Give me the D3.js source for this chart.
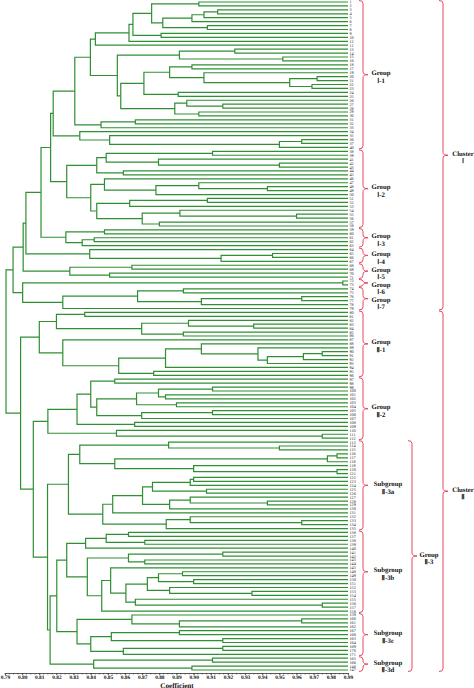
<!DOCTYPE html>
<html><head><meta charset="utf-8">
<script src="https://cdn.jsdelivr.net/npm/d3@7"></script>
<style>html,body{margin:0;padding:0;background:#fff;} svg{display:block;} text{text-rendering:geometricPrecision;}</style>
</head><body><svg id="c" width="474" height="688"></svg>
<script>
// ---------- DATA ----------
const L = 0; // leaf marker; internal node = [similarity coefficient, upper child, lower child]

const tickValues = [0.79,0.80,0.81,0.82,0.83,0.84,0.85,0.86,0.87,0.88,0.89,0.90,0.91,0.92,0.93,0.94,0.95,0.96,0.97,0.98,0.99];
const tickLabels = ["0.79","0.80","0.81","0.82","0.83","0.84","0.85","0.86","0.87","0.88","0.89","0.90","0.91","0.92","0.93","0.94","0.95","0.96","0.97","0.98","0.99"];

// Cluster I
const I1 = [0.8181,
  [0.8307,
    [0.8398,
      [0.8427, [0.8623, [0.8646, [0.8755, [0.903, L, L],
                                          [0.882, [0.899, [0.906, [0.914, L, L], L], L], [0.908, L, L]]],
                                 [0.881, L, L]], L], L],
      [0.8555, [0.8917, [0.924, L, L], [0.952, L, L]],
        [0.8575, [0.871, [0.886, [0.899, L, L], [0.906, L, [0.956, [0.972, L, L], [0.969, L, L]]]], [0.891, L, L]],
                 [0.889, [0.896, L, [0.917, L, L]], [0.903, L, L]]]]],
    [0.846, [0.866, L, L], L]],
  [0.8336, L, [0.851, L, [0.95, [0.963, L, L], L]]]];
const I2 = [0.826,
  [0.8435,
    [0.849, [0.911, L, L], [0.8795, L, [0.95, L, L]]],
    [0.859, L, L]],
  [0.84,
    [0.848, L, [0.878, [0.903, L, [0.943, L, L]], L]],
    [0.8435,
      [0.8627, [0.908, L, L], L],
      [0.87, [0.892, L, [0.96, L, L]], [0.88, L, L]]]]];
const I3 = [0.8255, [0.848, L, L], [0.835, [0.842, L, L], L]];
const I4 = [0.8394, L, [0.916, [0.946, L, L], L]];
const I5 = [0.8278, [0.864, L, L], [0.851, L, L]];
const I6 = [0.987, L, L];
const I7 = [0.8237, [0.8673, [0.894, L, L], [0.9045, [0.963, L, L], L]], L];

// Cluster II
const II1 = [0.81,
  [0.82, [0.8365, L, L], [0.8697, [0.897, L, [0.935, L, L]], [0.894, L, L]]],
  [0.8237, L, [0.8563, [0.8836, [0.9045, L, [0.9375, L, [0.943, [0.964, [0.975, L, L], L], L]]], L], [0.8767, L, L]]]];
const II2 = [0.815,
  [0.832,
    [0.84, [0.854, L, L], [0.8435, [0.8667, [0.8795, [0.911, L, L], [0.8836, L, L]], [0.89, L, L]], [0.8697, [0.911, L, L], L]]],
    [0.8656, L, L]],
  [0.855, L, [0.975, L, L]]];
const II3a = [0.827,
  [0.8336, [0.8854, L, [0.95, L, L]], [0.854, [0.978, [0.9836, L, L], L], [0.9, L, [0.9836, L, L]]]],
  [0.847,
    [0.8528,
      [0.8702,
        [0.876, [0.898, [0.9, L, L], L], [0.9075, L, L]],
        [0.886, [0.898, L, [0.943, L, L]], L]],
      L],
    [0.884, [0.898, L, [0.963, L, L]], L]]];
const II3b = [0.826,
  [0.837, [0.849, [0.862, L, L], [0.8715, L, L]], L],
  [0.838,
    [0.862, [0.917, L, L], [0.8715, L, L]],
    [0.8464,
      [0.8516, L, [0.8605, [0.873, [0.8795, [0.8935, L, L], [0.9, L, L]], [0.886, L, [0.934, L, L]]], [0.866, L, [0.975, L, L]]]],
      L]]];
const II3c = [0.832, [0.864, L, [0.8917, [0.963, L, L], L]], [0.84, [0.852, [0.8917, L, L], [0.917, L, L]], [0.859, [0.917, L, L], L]]];
const II3d = [0.8417, [0.911, L, L], [0.899, L, L]];

const clusterI = [0.7947, [0.8006, [0.8022, [0.811, [0.8166, I1, I2], I3], I4], I5], [0.8003, I6, I7]];
const clusterII = [0.7991, II1, [0.8065, II2, [0.8148, II3a, [0.8163, [0.8202, II3b, II3c], II3d]]]];
const treeRoot = [0.7906, clusterI, clusterII];

const leafLabels = [
 "1","2","3","4","5","6","7","8","9","10","12","11","13","14","15","16","18","17","19","20",
 "21","22","23","24","25","26","27","28","29","30","31","32","33","34","35","36","37","40",
 "38","39","41","42","43","44","45","46","47","48","49","50","51","52","53","54","55","56","57","58",
 "59","60","61","62","63",
 "64","65","66","67",
 "68","69","70","71",
 "72","73",
 "74","75","76","77","78","79",
 "80","81","82","83","84","85","86","87","88","89","90","91","92","93","94","95","96",
 "97","98","99","100","101","102","103","104","105","106","107","108","109","110","111","112",
 "113","114","115","116","117","118","119","120","121","122","123","124","125","126","127","128","129","130","131","132","133","134","135",
 "136","137","138","139","140","141","142","143","144","145","148","149","150","151","152","153","154","155","156","157","158",
 "159","160","161","162","167","168","163","164","169","170","171",
 "165","166","146","147"];

const groupNames = [["Group","Ⅰ-1"],["Group","Ⅰ-2"],["Group","Ⅰ-3"],["Group","Ⅰ-4"],["Group","Ⅰ-5"],["Group","Ⅰ-6"],["Group","Ⅰ-7"],
  ["Group","Ⅱ-1"],["Group","Ⅱ-2"],["Subgroup","Ⅱ-3a"],["Subgroup","Ⅱ-3b"],["Subgroup","Ⅱ-3c"],["Subgroup","Ⅱ-3d"]];
const groupSizes = [38,20,5,4,4,2,6,17,16,23,21,11,4];
const upperNames = [["Group","Ⅱ-3"]];
const upperRanges = [[9,12]];
const clusterNames = [["Cluster","Ⅰ"],["Cluster","Ⅱ"]];
const clusterRanges = [[0,6],[7,12]];
const axisTitle = "Coefficient";

// ---------- DRAW ----------
const svg = d3.select('#c');
const green = "#2f8f33", red = "#e8485e";
const serif = "'Liberation Serif','Times New Roman',serif";
const x = d3.scaleLinear().domain([0.79, 0.99]).range([5, 348]);

function build(a){ return a === L ? {leaf:true} : {h:a[0], children:[build(a[1]), build(a[2])]}; }
const root = d3.hierarchy(build(treeRoot));
const leaves = root.leaves();
const y = d3.scalePoint().domain(d3.range(leaves.length)).range([2, 670]);
leaves.forEach((d,i)=>{ d.py = y(i); d.px = x(0.99); d.label = leafLabels[i]; });
root.eachAfter(d=>{ if(d.children){ d.px = x(d.data.h); d.py = (d.children[0].py + d.children[1].py)/2; } });

svg.append('g').selectAll('path').data(root.descendants().filter(d=>d.children)).join('path')
  .attr('d', d=>{ const a=d.children[0], b=d.children[1];
     return `M${a.px},${a.py}H${d.px}V${b.py}H${b.px}`; })
  .attr('fill','none').attr('stroke',green).attr('stroke-width',1.2);

svg.append('g').selectAll('text').data(leaves).join('text')
  .attr('x', x(0.99)+1.5).attr('y', d=>d.py).attr('dy','0.35em')
  .attr('font-size',4.2).attr('font-family',serif).attr('fill','#222')
  .text(d=>d.label);

// brackets
const starts = []; let acc = 0; groupSizes.forEach(n=>{ starts.push(acc); acc += n; });
function span(gi0, gi1){ return [y(starts[gi0]) - 1.5, y(starts[gi1] + groupSizes[gi1] - 1) + 1.5]; }
function brace(bx, y0, y1){
  const r = Math.min(3, (y1-y0)/4), ym = (y0+y1)/2;
  return `M${bx-4},${y0}Q${bx},${y0} ${bx},${y0+r}L${bx},${ym-r}Q${bx},${ym} ${bx+5},${ym}Q${bx},${ym} ${bx},${ym+r}L${bx},${y1-r}Q${bx},${y1} ${bx-4},${y1}`;
}
const gB = svg.append('g');
function addBracket(bx, cx, y0, y1, lines, minY){
  gB.append('path').attr('d', brace(bx, y0, y1)).attr('fill','none').attr('stroke',red).attr('stroke-width',1);
  const base = Math.max((y0+y1)/2 + 0.5, minY);
  lines.forEach((t,i)=>{
    gB.append('text').attr('x',cx).attr('y', base + i*7.7).attr('text-anchor','middle')
      .attr('font-family',serif).attr('font-weight','bold').attr('font-size',6.8).attr('fill','#111').text(t);
  });
  return base + 7.7; // baseline of last line
}
let lastBase = -100;
groupNames.forEach((nm,i)=>{ const [a,b] = span(i,i);
  lastBase = addBracket(363, nm[0]==="Subgroup"?388:381, a, b, nm, lastBase + 7.3); });
upperNames.forEach((nm,i)=>{ const [a,b] = span(upperRanges[i][0], upperRanges[i][1]); addBracket(412, 429, a, b, nm, -100); });
clusterNames.forEach((nm,i)=>{ const [a,b] = span(clusterRanges[i][0], clusterRanges[i][1]); addBracket(443, 463, a, b, nm, -100); });

// axis
const axY = 673;
const minor = d3.range(0, 81).map(i => 0.79 + i*0.0025);
svg.append('g').selectAll('line').data(minor).join('line')
  .attr('x1', d=>x(d)).attr('x2', d=>x(d)).attr('y1', axY).attr('y2', axY+1.5)
  .attr('stroke','#333').attr('stroke-width',0.6);
const ax = svg.append('g').attr('transform',`translate(0,${axY})`)
  .call(d3.axisBottom(x).tickValues(tickValues).tickFormat((d,i)=>tickLabels[i]).tickSize(2.2).tickSizeOuter(0).tickPadding(0.3));
ax.select('.domain').attr('stroke','#333').attr('stroke-width',0.8);
ax.selectAll('.tick line').attr('stroke','#333').attr('stroke-width',0.7);
ax.selectAll('.tick text').attr('font-family',serif).attr('font-weight','bold').attr('font-size',5.4).attr('fill','#111');
svg.append('text').attr('x',177).attr('y',687.5).attr('text-anchor','middle')
  .attr('font-family',serif).attr('font-weight','bold').attr('font-size',7.2).attr('fill','#111').text(axisTitle);
</script></body></html>
